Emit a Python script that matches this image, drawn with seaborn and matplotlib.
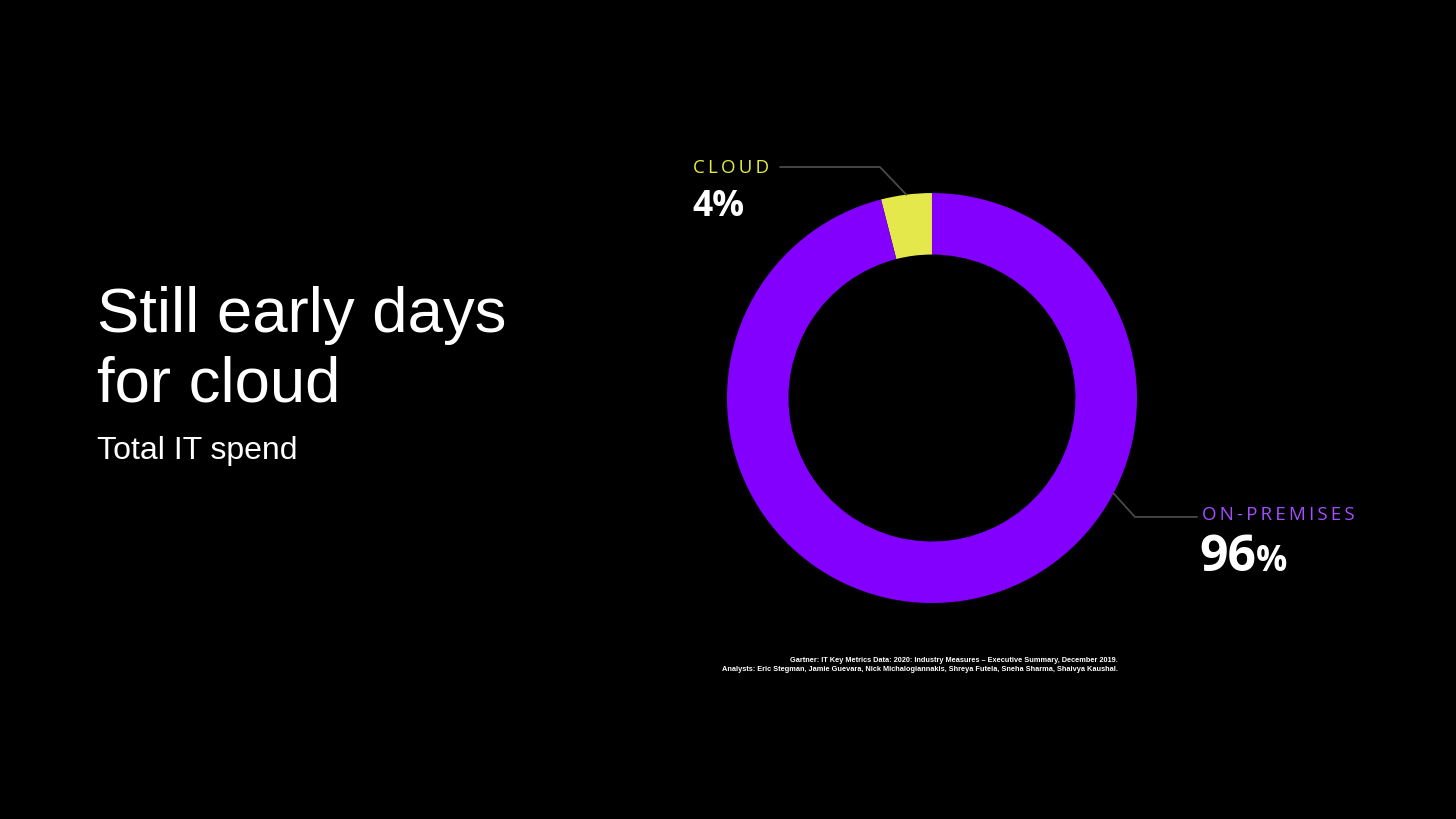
import numpy as np
import seaborn as sns
import matplotlib.pyplot as plt

# data
segments = ["CLOUD", "ON-PREMISES"]
shares = [4, 96]
seg_colors = ["#E4E84B", "#8300FF"]
label_colors = ["#E8EC3C", "#A54DFF"]
title_lines = ["Still early days", "for cloud"]
subtitle = "Total IT spend"
source_lines = ["Gartner: IT Key Metrics Data: 2020: Industry Measures \u2013 Executive Summary, December 2019.",
                "Analysts: Eric Stegman, Jamie Guevara, Nick Michalogiannakis, Shreya Futela, Sneha Sharma, Shaivya Kaushal."]

sns.set_theme(style="dark", rc={"figure.facecolor": "black", "axes.facecolor": "black",
                                "savefig.facecolor": "black"})
plt.rcParams['font.family'] = ['Liberation Sans', 'DejaVu Sans']

fig = plt.figure(figsize=(14.56, 8.19), dpi=100)

# title block
fig.text(0.0666, 0.5946, title_lines[0], color="white", fontsize=45.7, va="baseline", ha="left")
fig.text(0.0666, 0.5092, title_lines[1], color="white", fontsize=45.7, va="baseline", ha="left")
fig.text(0.0666, 0.4396, subtitle, color="white", fontsize=23, va="baseline", ha="left")

# donut
ax = fig.add_axes([0.4993, 0.2637, 0.2816, 0.5006])
wedges, _ = ax.pie(shares, colors=seg_colors, startangle=90, counterclock=True,
                   radius=1.0, wedgeprops=dict(width=0.30, edgecolor="none"))
ax.set_xlim(-1, 1)
ax.set_ylim(-1, 1)
ax.set_aspect("equal")
ax.axis("off")

line_col = "#4a4a4a"
# cloud leader from middle of its wedge
w = wedges[0]
a = np.deg2rad((w.theta1 + w.theta2) / 2)
ax.plot([np.cos(a), -0.254, -0.741], [np.sin(a), 1.127, 1.127], color=line_col, lw=1.3, clip_on=False)
# on-premises leader
a2 = np.deg2rad(-27.7)
ax.plot([np.cos(a2), 0.990, 1.293], [np.sin(a2), -0.580, -0.580], color=line_col, lw=1.3, clip_on=False)

label_font = ['Open Sans', 'DejaVu Sans']
def spaced(s):
    return "\u2009".join(s)

# cloud label
ax.text(-1.166, 1.098, spaced(segments[0]), color=label_colors[0], fontsize=13.5,
        family=label_font, va="baseline", ha="left")
ax.text(-1.170, 0.888, "%d%%" % shares[0], color="white", fontsize=25.5, fontweight="bold",
        family=label_font, va="baseline", ha="left")

# on-premises label
ax.text(1.317, -0.595, spaced(segments[1]), color=label_colors[1], fontsize=13.5,
        family=label_font, va="baseline", ha="left")
t = ax.text(1.302, -0.844, "%d" % shares[1], color="white", fontsize=36, fontweight="bold",
            family=label_font, va="baseline", ha="left")
fig.canvas.draw()
bb = t.get_window_extent().transformed(ax.transData.inverted())
ax.text(bb.x1 + 0.002, -0.844, "%", color="white", fontsize=25, fontweight="bold",
        family=label_font, va="baseline", ha="left")

# source note
fig.text(0.7679, 0.1917, source_lines[0], color="white", fontsize=5.35, fontweight="bold",
         ha="right", va="baseline")
fig.text(0.7679, 0.1807, source_lines[1], color="white", fontsize=5.35, fontweight="bold",
         ha="right", va="baseline")

fig.savefig("out.png", dpi=100, facecolor="black")
